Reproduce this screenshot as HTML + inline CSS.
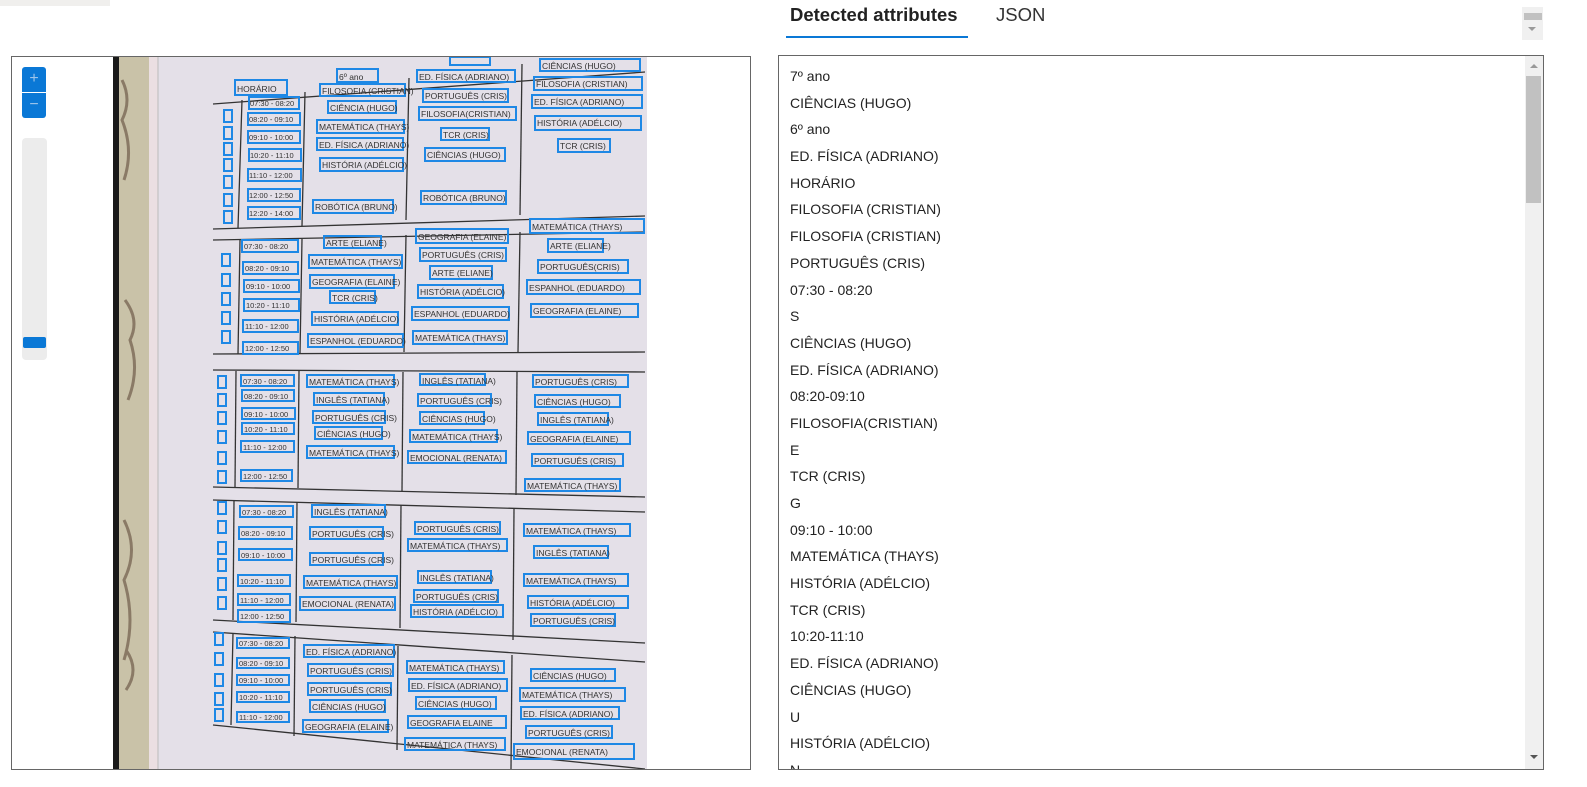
<!DOCTYPE html>
<html style="margin:0;padding:0;overflow:hidden;width:1587px;height:787px"><head><meta charset="utf-8"><style>
body{margin:0;padding:0;width:1587px;height:787px;background:#fff;overflow:hidden;font-family:"Segoe UI","Liberation Sans",sans-serif;}
#root{position:relative;width:1587px;height:787px;overflow:hidden}
.a{position:absolute}
.list div{height:26.7px;line-height:26.7px;font-size:14px;color:#222;white-space:nowrap}
</style></head><body><div id="root">
<div class="a" style="left:0;top:0;width:110px;height:6px;background:#f0efed"></div>
<div class="a" style="left:11px;top:56px;width:738px;height:712px;border:1px solid #666;overflow:hidden">
<svg width="738" height="712" viewBox="12 57 738 712" style="position:absolute;left:0;top:0;display:block" font-family="Liberation Sans, sans-serif" font-size="8.5" fill="#333">
<rect x="113" y="57" width="534" height="712" fill="#e4e0e8"/>
<rect x="113" y="57" width="6" height="712" fill="#1a1a1a"/>
<rect x="119" y="57" width="30" height="712" fill="#c9c2a8"/>
<path d="M122 80 q10 20 0 40 q12 30 2 60 M125 300 q15 20 5 40 q10 30-2 60 M124 520 q15 30 0 60 q12 40 0 80 M126 650 q14 20 0 40" stroke="#8a7a66" stroke-width="3" fill="none"/>
<rect x="149" y="57" width="9" height="712" fill="#ebdfe2"/>
<line x1="158" y1="57" x2="158" y2="769" stroke="#bbb"/>
<g stroke="#333" stroke-width="1.3" fill="none">
<line x1="213" y1="104" x2="645" y2="72"/>
<line x1="213" y1="229" x2="645" y2="216"/>
<line x1="213" y1="240" x2="645" y2="232"/>
<line x1="213" y1="354" x2="645" y2="352"/>
<line x1="213" y1="370" x2="645" y2="372"/>
<line x1="213" y1="487" x2="645" y2="497"/>
<line x1="213" y1="500" x2="645" y2="512"/>
<line x1="213" y1="620" x2="645" y2="643"/>
<line x1="213" y1="632" x2="645" y2="662"/>
<line x1="213" y1="725" x2="645" y2="769"/>
<line x1="242" y1="100" x2="238" y2="228"/><line x1="305" y1="92" x2="302" y2="226"/><line x1="409" y1="78" x2="406" y2="220"/><line x1="522" y1="64" x2="520" y2="215"/>
<line x1="240" y1="240" x2="238" y2="354"/><line x1="302" y1="239" x2="300" y2="354"/><line x1="406" y1="235" x2="404" y2="352"/><line x1="520" y1="232" x2="518" y2="352"/>
<line x1="236" y1="371" x2="235" y2="487"/><line x1="299" y1="371" x2="298" y2="488"/><line x1="403" y1="372" x2="402" y2="491"/><line x1="517" y1="372" x2="516" y2="495"/>
<line x1="234" y1="501" x2="233" y2="620"/><line x1="297" y1="502" x2="296" y2="622"/><line x1="401" y1="505" x2="400" y2="628"/><line x1="514" y1="509" x2="513" y2="640"/>
<line x1="233" y1="633" x2="231" y2="725"/><line x1="295" y1="636" x2="294" y2="736"/><line x1="398" y1="646" x2="397" y2="750"/><line x1="512" y1="655" x2="511" y2="769"/>
</g>
<g stroke="#1e88e5" stroke-width="2" fill="none">
<rect x="235" y="80" width="52" height="15"/><rect x="337" y="69" width="41" height="13"/><rect x="450" y="57" width="40" height="8"/>
<rect x="249" y="97" width="50" height="12"/><rect x="248" y="113" width="52" height="12"/><rect x="248" y="131" width="52" height="12"/><rect x="249" y="149" width="52" height="12"/><rect x="248" y="169" width="53" height="12"/><rect x="248" y="189" width="52" height="12"/><rect x="248" y="207" width="52" height="12"/>
<rect x="224" y="110" width="8" height="12"/><rect x="224" y="127" width="8" height="12"/><rect x="224" y="143" width="8" height="12"/><rect x="224" y="159" width="8" height="12"/><rect x="224" y="176" width="8" height="12"/><rect x="224" y="194" width="8" height="12"/><rect x="224" y="211" width="8" height="12"/>
<rect x="320" y="84" width="85" height="12"/><rect x="328" y="101" width="68" height="12"/><rect x="317" y="120" width="87" height="13"/><rect x="317" y="138" width="86" height="12"/><rect x="320" y="158" width="83" height="13"/><rect x="313" y="200" width="80" height="13"/>
<rect x="417" y="70" width="98" height="12"/><rect x="423" y="89" width="85" height="13"/><rect x="419" y="107" width="97" height="13"/><rect x="441" y="128" width="48" height="12"/><rect x="425" y="148" width="80" height="13"/><rect x="421" y="191" width="85" height="13"/>
<rect x="540" y="59" width="100" height="12"/><rect x="534" y="77" width="108" height="13"/><rect x="532" y="95" width="110" height="13"/><rect x="535" y="116" width="106" height="14"/><rect x="558" y="139" width="52" height="13"/>
<rect x="242" y="240" width="56" height="12"/><rect x="243" y="262" width="55" height="12"/><rect x="244" y="280" width="55" height="12"/><rect x="244" y="299" width="55" height="12"/><rect x="243" y="320" width="55" height="12"/><rect x="243" y="342" width="55" height="12"/>
<rect x="222" y="254" width="8" height="12"/><rect x="222" y="274" width="8" height="12"/><rect x="222" y="293" width="8" height="12"/><rect x="222" y="312" width="8" height="12"/><rect x="222" y="331" width="8" height="12"/>
<rect x="324" y="236" width="57" height="12"/><rect x="309" y="255" width="93" height="13"/><rect x="310" y="275" width="84" height="13"/><rect x="330" y="291" width="45" height="12"/><rect x="312" y="312" width="86" height="13"/><rect x="308" y="334" width="95" height="13"/>
<rect x="416" y="229" width="92" height="14"/><rect x="420" y="248" width="86" height="13"/><rect x="430" y="266" width="62" height="13"/><rect x="418" y="285" width="85" height="13"/><rect x="412" y="307" width="97" height="13"/><rect x="413" y="331" width="94" height="13"/>
<rect x="530" y="219" width="114" height="14"/><rect x="548" y="239" width="55" height="13"/><rect x="538" y="260" width="90" height="13"/><rect x="527" y="280" width="113" height="14"/><rect x="531" y="304" width="107" height="13"/>
<rect x="241" y="375" width="53" height="11"/><rect x="242" y="390" width="52" height="11"/><rect x="242" y="408" width="53" height="11"/><rect x="242" y="423" width="52" height="11"/><rect x="241" y="441" width="53" height="11"/><rect x="241" y="470" width="51" height="11"/>
<rect x="218" y="376" width="8" height="12"/><rect x="218" y="394" width="8" height="12"/><rect x="218" y="412" width="8" height="12"/><rect x="218" y="431" width="8" height="12"/><rect x="218" y="452" width="8" height="12"/><rect x="218" y="471" width="8" height="12"/>
<rect x="307" y="375" width="87" height="12"/><rect x="314" y="393" width="70" height="12"/><rect x="313" y="411" width="72" height="12"/><rect x="315" y="427" width="67" height="12"/><rect x="307" y="446" width="87" height="12"/>
<rect x="420" y="374" width="65" height="11"/><rect x="418" y="394" width="73" height="12"/><rect x="420" y="412" width="64" height="12"/><rect x="410" y="430" width="87" height="12"/><rect x="408" y="451" width="98" height="12"/>
<rect x="533" y="375" width="95" height="12"/><rect x="535" y="395" width="85" height="12"/><rect x="538" y="413" width="70" height="12"/><rect x="528" y="432" width="102" height="12"/><rect x="532" y="454" width="91" height="12"/><rect x="525" y="479" width="95" height="12"/>
<rect x="240" y="506" width="53" height="11"/><rect x="239" y="527" width="53" height="12"/><rect x="239" y="549" width="53" height="11"/><rect x="238" y="575" width="52" height="11"/><rect x="238" y="594" width="52" height="11"/><rect x="238" y="610" width="52" height="12"/>
<rect x="218" y="502" width="8" height="12"/><rect x="218" y="521" width="8" height="12"/><rect x="218" y="542" width="8" height="12"/><rect x="218" y="559" width="8" height="12"/><rect x="218" y="578" width="8" height="12"/><rect x="218" y="597" width="8" height="12"/>
<rect x="312" y="505" width="73" height="12"/><rect x="310" y="527" width="73" height="12"/><rect x="310" y="553" width="73" height="12"/><rect x="304" y="576" width="93" height="12"/><rect x="300" y="597" width="95" height="13"/>
<rect x="415" y="522" width="85" height="12"/><rect x="408" y="539" width="99" height="12"/><rect x="418" y="571" width="73" height="12"/><rect x="414" y="590" width="84" height="12"/><rect x="411" y="605" width="92" height="12"/>
<rect x="524" y="524" width="106" height="12"/><rect x="534" y="546" width="74" height="12"/><rect x="524" y="574" width="104" height="12"/><rect x="528" y="596" width="100" height="12"/><rect x="531" y="614" width="84" height="12"/>
<rect x="237" y="638" width="52" height="10"/><rect x="237" y="658" width="52" height="10"/><rect x="237" y="675" width="52" height="10"/><rect x="237" y="692" width="52" height="10"/><rect x="237" y="712" width="52" height="10"/>
<rect x="215" y="633" width="8" height="12"/><rect x="215" y="653" width="8" height="12"/><rect x="215" y="674" width="8" height="12"/><rect x="215" y="693" width="8" height="12"/><rect x="215" y="709" width="8" height="12"/>
<rect x="304" y="645" width="90" height="12"/><rect x="308" y="664" width="85" height="12"/><rect x="308" y="683" width="83" height="12"/><rect x="310" y="700" width="75" height="12"/><rect x="303" y="720" width="85" height="12"/>
<rect x="407" y="661" width="97" height="12"/><rect x="409" y="679" width="98" height="12"/><rect x="416" y="697" width="80" height="12"/><rect x="408" y="716" width="98" height="12"/><rect x="405" y="738" width="100" height="12"/>
<rect x="531" y="669" width="84" height="12"/><rect x="520" y="688" width="105" height="13"/><rect x="521" y="707" width="98" height="12"/><rect x="526" y="726" width="86" height="12"/><rect x="514" y="744" width="120" height="15"/>
</g>
<g>
<text x="237" y="92">HORÁRIO</text><text x="339" y="80">6º ano</text>
<text x="322" y="94">FILOSOFIA (CRISTIAN)</text><text x="330" y="111">CIÊNCIA (HUGO)</text><text x="319" y="130">MATEMÁTICA (THAYS)</text><text x="319" y="148">ED. FÍSICA (ADRIANO)</text><text x="322" y="168">HISTÓRIA (ADÉLCIO)</text><text x="315" y="210">ROBÓTICA (BRUNO)</text>
<text x="419" y="80">ED. FÍSICA (ADRIANO)</text><text x="425" y="99">PORTUGUÊS (CRIS)</text><text x="421" y="117">FILOSOFIA(CRISTIAN)</text><text x="443" y="138">TCR (CRIS)</text><text x="427" y="158">CIÊNCIAS (HUGO)</text><text x="423" y="201">ROBÓTICA (BRUNO)</text>
<text x="542" y="69">CIÊNCIAS (HUGO)</text><text x="536" y="87">FILOSOFIA (CRISTIAN)</text><text x="534" y="105">ED. FÍSICA (ADRIANO)</text><text x="537" y="126">HISTÓRIA (ADÉLCIO)</text><text x="560" y="149">TCR (CRIS)</text>
<text x="326" y="246">ARTE (ELIANE)</text><text x="311" y="265">MATEMÁTICA (THAYS)</text><text x="312" y="285">GEOGRAFIA (ELAINE)</text><text x="332" y="301">TCR (CRIS)</text><text x="314" y="322">HISTÓRIA (ADÉLCIO)</text><text x="310" y="344">ESPANHOL (EDUARDO)</text>
<text x="418" y="240">GEOGRAFIA (ELAINE)</text><text x="422" y="258">PORTUGUÊS (CRIS)</text><text x="432" y="276">ARTE (ELIANE)</text><text x="420" y="295">HISTÓRIA (ADÉLCIO)</text><text x="414" y="317">ESPANHOL (EDUARDO)</text><text x="415" y="341">MATEMÁTICA (THAYS)</text>
<text x="532" y="230">MATEMÁTICA (THAYS)</text><text x="550" y="249">ARTE (ELIANE)</text><text x="540" y="270">PORTUGUÊS(CRIS)</text><text x="529" y="291">ESPANHOL (EDUARDO)</text><text x="533" y="314">GEOGRAFIA (ELAINE)</text>
<text x="309" y="385">MATEMÁTICA (THAYS)</text><text x="316" y="403">INGLÊS (TATIANA)</text><text x="315" y="421">PORTUGUÊS (CRIS)</text><text x="317" y="437">CIÊNCIAS (HUGO)</text><text x="309" y="456">MATEMÁTICA (THAYS)</text>
<text x="422" y="384">INGLÊS (TATIANA)</text><text x="420" y="404">PORTUGUÊS (CRIS)</text><text x="422" y="422">CIÊNCIAS (HUGO)</text><text x="412" y="440">MATEMÁTICA (THAYS)</text><text x="410" y="461">EMOCIONAL (RENATA)</text>
<text x="535" y="385">PORTUGUÊS (CRIS)</text><text x="537" y="405">CIÊNCIAS (HUGO)</text><text x="540" y="423">INGLÊS (TATIANA)</text><text x="530" y="442">GEOGRAFIA (ELAINE)</text><text x="534" y="464">PORTUGUÊS (CRIS)</text><text x="527" y="489">MATEMÁTICA (THAYS)</text>
<text x="314" y="515">INGLÊS (TATIANA)</text><text x="312" y="537">PORTUGUÊS (CRIS)</text><text x="312" y="563">PORTUGUÊS (CRIS)</text><text x="306" y="586">MATEMÁTICA (THAYS)</text><text x="302" y="607">EMOCIONAL (RENATA)</text>
<text x="417" y="532">PORTUGUÊS (CRIS)</text><text x="410" y="549">MATEMÁTICA (THAYS)</text><text x="420" y="581">INGLÊS (TATIANA)</text><text x="416" y="600">PORTUGUÊS (CRIS)</text><text x="413" y="615">HISTÓRIA (ADÉLCIO)</text>
<text x="526" y="534">MATEMÁTICA (THAYS)</text><text x="536" y="556">INGLÊS (TATIANA)</text><text x="526" y="584">MATEMÁTICA (THAYS)</text><text x="530" y="606">HISTÓRIA (ADÉLCIO)</text><text x="533" y="624">PORTUGUÊS (CRIS)</text>
<text x="306" y="655">ED. FÍSICA (ADRIANO)</text><text x="310" y="674">PORTUGUÊS (CRIS)</text><text x="310" y="693">PORTUGUÊS (CRIS)</text><text x="312" y="710">CIÊNCIAS (HUGO)</text><text x="305" y="730">GEOGRAFIA (ELAINE)</text>
<text x="409" y="671">MATEMÁTICA (THAYS)</text><text x="411" y="689">ED. FÍSICA (ADRIANO)</text><text x="418" y="707">CIÊNCIAS (HUGO)</text><text x="410" y="726">GEOGRAFIA ELAINE</text><text x="407" y="748">MATEMÁTICA (THAYS)</text>
<text x="533" y="679">CIÊNCIAS (HUGO)</text><text x="522" y="698">MATEMÁTICA (THAYS)</text><text x="523" y="717">ED. FÍSICA (ADRIANO)</text><text x="528" y="736">PORTUGUÊS (CRIS)</text><text x="516" y="755">EMOCIONAL (RENATA)</text>
</g>
<g font-size="7.5">
<text x="250" y="106">07:30 - 08:20</text><text x="249" y="122">08:20 - 09:10</text><text x="249" y="140">09:10 - 10:00</text><text x="250" y="158">10:20 - 11:10</text><text x="249" y="178">11:10 - 12:00</text><text x="249" y="198">12:00 - 12:50</text><text x="249" y="216">12:20 - 14:00</text>
<text x="244" y="249">07:30 - 08:20</text><text x="245" y="271">08:20 - 09:10</text><text x="246" y="289">09:10 - 10:00</text><text x="246" y="308">10:20 - 11:10</text><text x="245" y="329">11:10 - 12:00</text><text x="245" y="351">12:00 - 12:50</text>
<text x="243" y="384">07:30 - 08:20</text><text x="244" y="399">08:20 - 09:10</text><text x="244" y="417">09:10 - 10:00</text><text x="244" y="432">10:20 - 11:10</text><text x="243" y="450">11:10 - 12:00</text><text x="243" y="479">12:00 - 12:50</text>
<text x="242" y="515">07:30 - 08:20</text><text x="241" y="536">08:20 - 09:10</text><text x="241" y="558">09:10 - 10:00</text><text x="240" y="584">10:20 - 11:10</text><text x="240" y="603">11:10 - 12:00</text><text x="240" y="619">12:00 - 12:50</text>
<text x="239" y="646">07:30 - 08:20</text><text x="239" y="666">08:20 - 09:10</text><text x="239" y="683">09:10 - 10:00</text><text x="239" y="700">10:20 - 11:10</text><text x="239" y="720">11:10 - 12:00</text>
</g>
</svg>
<div class="a" style="left:10px;top:10px;width:24px;height:51px;background:#0a78d6;border-radius:3px"></div>
<div class="a" style="left:10px;top:10px;width:24px;height:24px;color:#9cc4ea;text-align:center;line-height:24px;font-size:16px">+</div>
<div class="a" style="left:10px;top:35px;width:24px;height:1px;background:#fff"></div>
<div class="a" style="left:10px;top:36px;width:24px;height:24px;color:#9cc4ea;text-align:center;line-height:24px;font-size:16px">−</div>
<div class="a" style="left:10px;top:81px;width:25px;height:222px;background:#ececec;border-radius:4px"></div>
<div class="a" style="left:11px;top:280px;width:23px;height:11px;background:#0a78d6;border-radius:2px"></div>
</div>
<div class="a" style="left:790px;top:4px;font-size:18.5px;font-weight:bold;color:#222;white-space:nowrap">Detected attributes</div>
<div class="a" style="left:786px;top:36px;width:182px;height:2px;background:#0a78d6"></div>
<div class="a" style="left:996px;top:4px;font-size:18.5px;color:#333">JSON</div>
<div class="a" style="left:1522px;top:7px;width:21px;height:33px;background:#f0f0f0"></div>
<div class="a" style="left:1524px;top:13px;width:18px;height:7px;background:#c1c1c1"></div>
<div class="a" style="left:1528px;top:27px;width:0;height:0;border-left:4px solid transparent;border-right:4px solid transparent;border-top:4px solid #999"></div>
<div class="a" style="left:778px;top:55px;width:764px;height:713px;border:1px solid #666;overflow:hidden">
<div class="list a" style="left:11px;top:7px;height:706px;overflow:hidden">
<div>7º ano</div><div>CIÊNCIAS (HUGO)</div><div>6º ano</div><div>ED. FÍSICA (ADRIANO)</div><div>HORÁRIO</div><div>FILOSOFIA (CRISTIAN)</div><div>FILOSOFIA (CRISTIAN)</div><div>PORTUGUÊS (CRIS)</div><div>07:30 - 08:20</div><div>S</div><div>CIÊNCIAS (HUGO)</div><div>ED. FÍSICA (ADRIANO)</div><div>08:20-09:10</div><div>FILOSOFIA(CRISTIAN)</div><div>E</div><div>TCR (CRIS)</div><div>G</div><div>09:10 - 10:00</div><div>MATEMÁTICA (THAYS)</div><div>HISTÓRIA (ADÉLCIO)</div><div>TCR (CRIS)</div><div>10:20-11:10</div><div>ED. FÍSICA (ADRIANO)</div><div>CIÊNCIAS (HUGO)</div><div>U</div><div>HISTÓRIA (ADÉLCIO)</div><div>N</div>
</div>
<div class="a" style="right:0;top:0;width:18px;height:713px;background:#f0f0f0"></div>
<div class="a" style="right:2px;top:20px;width:15px;height:127px;background:#c1c1c1"></div>
<div class="a" style="right:5px;top:8px;width:0;height:0;border-left:4px solid transparent;border-right:4px solid transparent;border-bottom:4px solid #999"></div>
<div class="a" style="right:5px;top:699px;width:0;height:0;border-left:4px solid transparent;border-right:4px solid transparent;border-top:4px solid #555"></div>
</div>
</div></body></html>
